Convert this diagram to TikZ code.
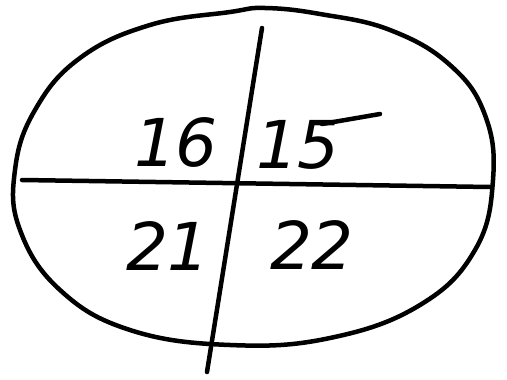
\documentclass[tikz,border=0pt]{standalone}
\usepackage{fontspec}
\setmainfont{DejaVu Sans}
\begin{document}
\begin{tikzpicture}[x=1pt,y=-1pt,
  ink/.style={line width=4.5pt,line cap=round,line join=round},
  num/.style={font=\fontsize{66}{66}\selectfont\itshape,inner sep=0pt,anchor=center}]
\useasboundingbox (0,0) rectangle (507,380);
\draw[ink] plot[smooth cycle,tension=0.7] coordinates {
 (80,58) (150,25) (230,12) (265,8) (320,14) (390,30) (450,65) (485,115)
 (493,180) (475,250) (420,305) (330,338) (230,345) (130,330) (60,290)
 (20,230) (15,170) (35,110)};
\coordinate (hl) at (22,180);
\coordinate (hr) at (490,187);
\draw[ink] (hl) -- (hr);
\coordinate (vt) at (262,28);
\coordinate (vb) at (207,372);
\draw[ink] (vt) -- (vb);
\node[num] (n16) at (176,142) {16};
\node[num] (n15) at (298,145) {15};
\draw[ink] (322,124) -- (380,114);
\node[num] (n21) at (168,246) {21};
\node[num] (n22) at (312,245) {22};
\end{tikzpicture}
\end{document}
